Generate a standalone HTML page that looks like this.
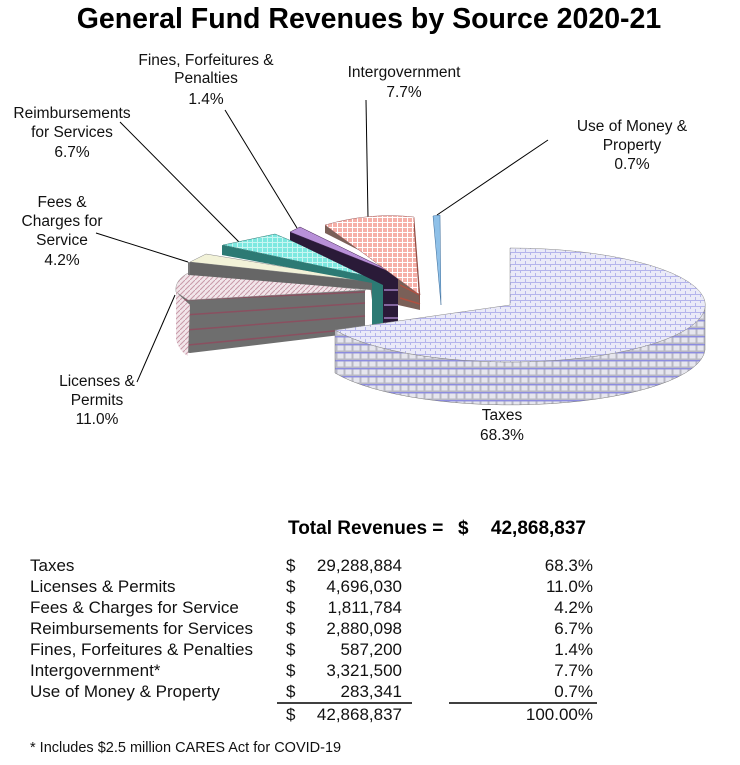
<!DOCTYPE html>
<html><head><meta charset="utf-8"><style>
html,body{margin:0;padding:0;background:#fff;}
svg{display:block;}
text{font-family:"Liberation Sans",Arial,sans-serif;}
</style></head><body>
<svg width="740" height="765" viewBox="0 0 740 765" xmlns="http://www.w3.org/2000/svg">
<defs>
<pattern id="pt" width="10" height="6" patternUnits="userSpaceOnUse"><rect width="10" height="6" fill="#eaeaf8"/><path d="M0 0.5H10M0.5 0V3M5.5 3V6" stroke="#b4b4ec" stroke-width="1"/></pattern>
<pattern id="ps" width="8" height="8" patternUnits="userSpaceOnUse"><rect width="8" height="8" fill="#b8b8c4"/><rect x="1.5" y="1.5" width="6" height="5" fill="#e6e6ee"/><path d="M0 0.7H8" stroke="#8c8ce0" stroke-width="1.4"/></pattern>
<pattern id="pl" width="5" height="5" patternUnits="userSpaceOnUse"><rect width="5" height="5" fill="#f2e6ea"/><path d="M0 5L5 0" stroke="#c899a8" stroke-width="1"/></pattern>
<pattern id="pr" width="5" height="5" patternUnits="userSpaceOnUse"><rect width="5" height="5" fill="#f6b0a8"/><path d="M0 2.5H5M2.5 0V5" stroke="#fff" stroke-width="1"/></pattern>
<pattern id="pc" width="5" height="5" patternUnits="userSpaceOnUse"><rect width="5" height="5" fill="#7de8e0"/><path d="M0 2.5H5M2.5 0V5" stroke="#c8f6f2" stroke-width="1"/></pattern>
</defs>
<text x="369" y="28" text-anchor="middle" font-size="28.5" font-weight="bold">General Fund Revenues by Source 2020-21</text>

<g stroke="#000" stroke-width="1" fill="none">
<path d="M96 233 L188 262"/>
<path d="M120 122 L240 243"/>
<path d="M225 110 L297 228"/>
<path d="M366 100 L368 218"/>
<path d="M548 140 L437 215"/>
<path d="M137 382 L175 295"/>
</g>

<path d="M178 290 L178 340 Q180 352 190 353 L365 332 L365 290 Z" fill="#6e6e6e"/>
<path d="M182 300 L365 292 M184 315 L365 303 M186 330 L365 316 M188 345 L365 328" stroke="#8a5060" stroke-width="1.5"/>
<path d="M176 292 L176 340 Q180 352 188 356 L190 305 Z" fill="url(#pl)"/>
<path d="M190 272 Q174 280 176 292 L188 300 L366 290 Z" fill="url(#pl)" stroke="#999" stroke-width="0.5"/>
<path d="M188 262 L188 275 L370 285 L372 300 L378 300 L378 282 Z" fill="#777"/>
<path d="M190 262 L206 254 L376 282 Z" fill="#f2f2d8" stroke="#888" stroke-width="0.5"/>
<path d="M190 262 L190 275 L372 290 L372 282 Z" fill="#666"/>
<path d="M222 245 L222 255 L372 283 L372 330 L385 330 L385 280 Z" fill="#2c7a74"/>
<path d="M223 245 L275 234 L385 280 Z" fill="url(#pc)" stroke="#2c7a74" stroke-width="0.5"/>
<path d="M290 232 L290 240 L383 285 L383 325 L398 325 L398 275 Z" fill="#2a1a38"/>
<path d="M384 290 L398 290 M384 305 L398 305 M384 318 L398 318" stroke="#a080c0" stroke-width="1.5"/>
<path d="M290 232 L300 227 L398 275 Z" fill="#b890d8" stroke="#402050" stroke-width="0.5"/>
<path d="M325 225 L325 233 L398 270 L398 305 L420 310 L420 295 Z" fill="#7a6058"/>
<path d="M400 285 L420 295 M400 298 L420 304" stroke="#b05040" stroke-width="1.5"/>
<path d="M325 225 Q370 212 414 217 L420 295 Z" fill="url(#pr)" stroke="#a06060" stroke-width="0.5"/>
<path d="M414 217 L420 295 L420 310 L414 230 Z" fill="#8a4a40"/>
<path d="M433 216 L440 215 L441 305 Z" fill="#8ec0e8" stroke="#3a6a98" stroke-width="0.5"/>
<path d="M335 330 L335 373 A195 57 0 0 0 705 350 L705 307 A195 57 0 0 1 335 330 Z" fill="url(#ps)" stroke="#777" stroke-width="0.5"/>
<path d="M510 305 L335 330 A195 57 0 1 0 510 248 Z" fill="url(#pt)" stroke="#888" stroke-width="0.5"/>

<g font-size="15.5" text-anchor="middle" fill="#111">
<text x="206" y="65">Fines, Forfeitures &amp;</text>
<text x="206" y="83">Penalties</text>
<text x="206" y="104">1.4%</text>
<text x="404" y="77">Intergovernment</text>
<text x="404" y="97">7.7%</text>
<text x="72" y="118">Reimbursements</text>
<text x="72" y="137">for Services</text>
<text x="72" y="157">6.7%</text>
<text x="632" y="131">Use of Money &amp;</text>
<text x="632" y="150">Property</text>
<text x="632" y="169">0.7%</text>
<text x="62" y="207">Fees &amp;</text>
<text x="62" y="226">Charges for</text>
<text x="62" y="245">Service</text>
<text x="62" y="265">4.2%</text>
<text x="97" y="386">Licenses &amp;</text>
<text x="97" y="405">Permits</text>
<text x="97" y="424">11.0%</text>
<text x="502" y="420">Taxes</text>
<text x="502" y="440">68.3%</text>
</g>

<g font-size="19" font-weight="bold">
<text x="288" y="534">Total Revenues =</text>
<text x="458" y="534">$</text>
<text x="586" y="534" text-anchor="end">42,868,837</text>
</g>
<g font-size="17" fill="#111">
<text x="30" y="571">Taxes</text>
<text x="30" y="592">Licenses &amp; Permits</text>
<text x="30" y="613">Fees &amp; Charges for Service</text>
<text x="30" y="634">Reimbursements for Services</text>
<text x="30" y="655">Fines, Forfeitures &amp; Penalties</text>
<text x="30" y="676">Intergovernment*</text>
<text x="30" y="697">Use of Money &amp; Property</text>
<g>
<text x="286" y="571">$</text><text x="286" y="592">$</text><text x="286" y="613">$</text><text x="286" y="634">$</text><text x="286" y="655">$</text><text x="286" y="676">$</text><text x="286" y="697">$</text><text x="286" y="720">$</text>
</g>
<g text-anchor="end">
<text x="402" y="571">29,288,884</text><text x="402" y="592">4,696,030</text><text x="402" y="613">1,811,784</text><text x="402" y="634">2,880,098</text><text x="402" y="655">587,200</text><text x="402" y="676">3,321,500</text><text x="402" y="697">283,341</text><text x="402" y="720">42,868,837</text>
<text x="593" y="571">68.3%</text><text x="593" y="592">11.0%</text><text x="593" y="613">4.2%</text><text x="593" y="634">6.7%</text><text x="593" y="655">1.4%</text><text x="593" y="676">7.7%</text><text x="593" y="697">0.7%</text><text x="593" y="720">100.00%</text>
</g>
</g>
<path d="M277 703 H412 M449 703 H597" stroke="#000" stroke-width="1.5"/>
<text x="30" y="752" font-size="14.5" fill="#111">* Includes $2.5 million CARES Act for COVID-19</text>
</svg>
</body></html>
